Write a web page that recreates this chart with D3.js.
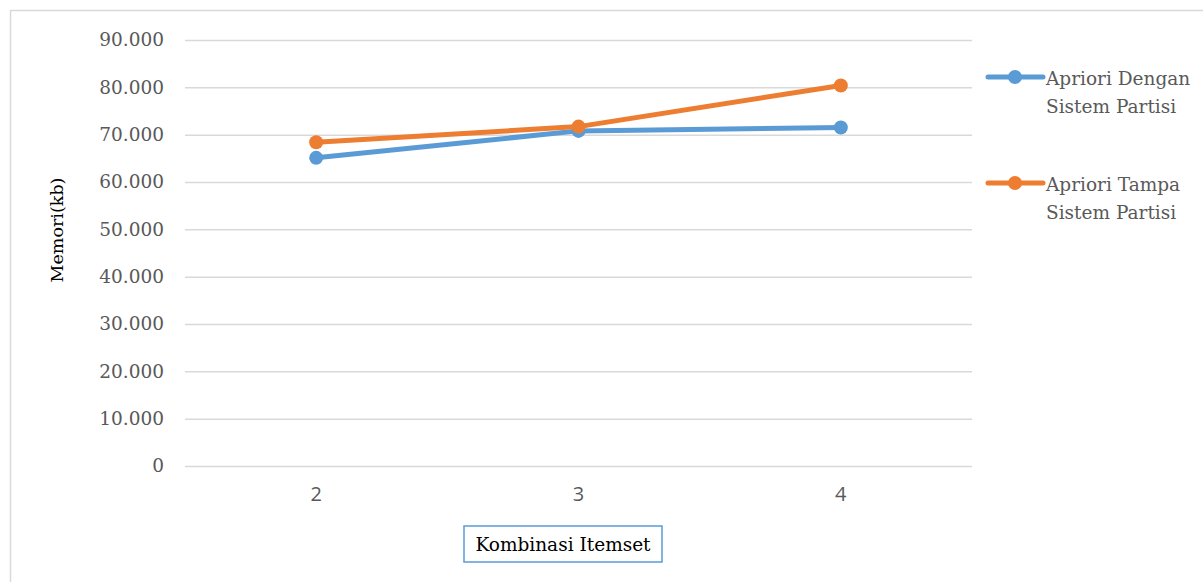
<!DOCTYPE html>
<html>
<head>
<meta charset="utf-8">
<script src="https://cdn.jsdelivr.net/npm/d3@7"></script>
<style>
  body { margin: 0; background: #fff; }
  .serif { font-family: "DejaVu Serif", serif; }
</style>
</head>
<body>
<div id="chart-holder"></div>
<script>
// ****DATA****
const categories = ['2', '3', '4'];
const seriesNames = ['Apriori Dengan Sistem Partisi', 'Apriori Tampa Sistem Partisi'];
const denganPartisi = [65100, 70800, 71500];
const tampaPartisi = [68400, 71700, 80400];
const yTicks = [0, 10000, 20000, 30000, 40000, 50000, 60000, 70000, 80000, 90000];
const legendLines = [['Apriori Dengan', 'Sistem Partisi'], ['Apriori Tampa', 'Sistem Partisi']];

const width = 1203;
const height = 582;
const paddingLeft = 185;
const paddingRight = 231;   // plot ends at x=972
const paddingTop = 40;
const paddingBottom = 116;  // zero line at y=466
const graphWidth = width - (paddingLeft + paddingRight);
const graphHeight = height - (paddingTop + paddingBottom);
const colors = ['#5b9bd5', '#ed7d31'];

const svg = d3.select('#chart-holder')
    .append('svg')
    .attr('width', width)
    .attr('height', height);

// outer chart border
svg.append('rect')
    .attr('x', 10.5).attr('y', 10.5)
    .attr('width', width + 10).attr('height', height + 10)
    .attr('fill', 'none')
    .attr('stroke', '#d9d9d9')
    .attr('stroke-width', 1.5);

// ****SCALES****
const xScale = d3.scaleBand()
    .domain(categories)
    .range([0, graphWidth]);
const yScale = d3.scaleLinear()
    .domain([0, 90000])
    .range([graphHeight, 0]);

const graphGroup = svg.append('g')
    .attr('transform', `translate(${paddingLeft}, ${paddingTop})`);

// gridlines
graphGroup.append('g')
    .call(d3.axisLeft(yScale).tickValues(yTicks).tickSize(-graphWidth).tickFormat(''))
    .call(g => g.select('.domain').remove())
    .selectAll('line')
        .attr('stroke', '#d9d9d9')
        .attr('stroke-width', 1.5);

// y axis labels
const fmt = d => d === 0 ? '0' : d3.format(',')(d).replace(/,/g, '.');
const yAxis = graphGroup.append('g')
    .call(d3.axisLeft(yScale).tickValues(yTicks).tickSize(0).tickPadding(21).tickFormat(fmt))
    .call(g => g.select('.domain').remove());
yAxis.attr('font-family', null).attr('font-size', null);
yAxis.selectAll('text')
    .attr('class', 'serif')
    .attr('fill', '#595959')
    .style('font-size', '18.5px');

// x axis labels
const xAxis = graphGroup.append('g')
    .attr('transform', `translate(0, ${graphHeight})`)
    .call(d3.axisBottom(xScale).tickSize(0).tickPadding(21))
    .call(g => g.select('.domain').remove());
xAxis.selectAll('text')
    .attr('fill', '#595959')
    .style('font-family', "'Open Sans', 'Liberation Sans', sans-serif")
    .style('font-size', '20px');

// ****PLOT****
const line = d3.line()
    .x((d, i) => xScale(categories[i]) + xScale.bandwidth() / 2)
    .y(d => yScale(d));

[denganPartisi, tampaPartisi].forEach(function(values, k) {
    graphGroup.append('path')
        .datum(values)
        .attr('fill', 'none')
        .attr('stroke', colors[k])
        .attr('stroke-width', 5)
        .attr('stroke-linejoin', 'round')
        .attr('d', line);
    graphGroup.selectAll('.pt' + k)
        .data(values)
        .enter()
        .append('circle')
        .attr('class', 'pt' + k)
        .attr('cx', (d, i) => xScale(categories[i]) + xScale.bandwidth() / 2)
        .attr('cy', d => yScale(d))
        .attr('r', 7)
        .attr('fill', colors[k]);
});

// ****LEGEND****
const legend = svg.append('g').attr('transform', 'translate(988, 77)');
seriesNames.forEach(function(name, k) {
    const g = legend.append('g').attr('transform', `translate(0, ${k * 106})`);
    g.append('line')
        .attr('x1', 0).attr('x2', 55)
        .attr('stroke', colors[k])
        .attr('stroke-width', 5)
        .attr('stroke-linecap', 'round');
    g.append('circle').attr('cx', 27).attr('r', 7).attr('fill', colors[k]);
    const t = g.append('text')
        .attr('class', 'serif')
        .attr('x', 58)
        .attr('y', 8)
        .attr('fill', '#595959')
        .style('font-size', '18.5px');
    legendLines[k].forEach(function(s, j) {
        t.append('tspan').attr('x', 58).attr('dy', j === 0 ? 0 : 28).text(s);
    });
});

// y axis title
svg.append('text')
    .attr('class', 'serif')
    .attr('transform', 'rotate(-90)')
    .attr('x', -230)
    .attr('y', 63)
    .attr('text-anchor', 'middle')
    .attr('fill', '#000')
    .style('font-size', '17.5px')
    .text('Memori(kb)');

// x axis title in box
const xTitle = svg.append('g');
xTitle.append('rect')
    .attr('x', 464).attr('y', 526)
    .attr('width', 198).attr('height', 36)
    .attr('fill', '#fff')
    .attr('stroke', '#5b9bd5')
    .attr('stroke-width', 1.5);
xTitle.append('text')
    .attr('class', 'serif')
    .attr('x', 563)
    .attr('y', 551)
    .attr('text-anchor', 'middle')
    .attr('fill', '#000')
    .style('font-size', '18.5px')
    .text('Kombinasi Itemset');
</script>
</body>
</html>
